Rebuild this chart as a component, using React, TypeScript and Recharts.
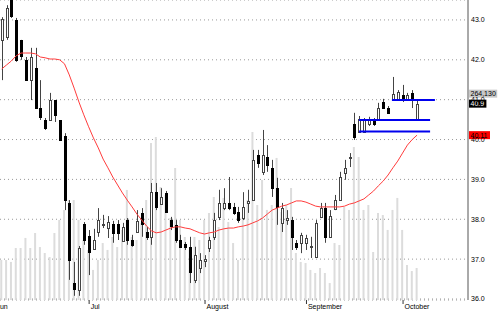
import {
  Bar,
  CartesianGrid,
  ComposedChart,
  Line,
  ReferenceLine,
  XAxis,
  YAxis,
} from 'recharts'

const FONT = '"Liberation Sans", Arial, sans-serif'

// month labels and the bar index where each month starts
const monthLabels = ['Jun', 'Jul', 'August', 'September', 'October']
const monthStarts = [-1.5, 18, 42, 63, 83]

const priceTicks = [36, 37, 38, 39, 40, 41, 42, 43]

const opens = [
  42.5, 42.57, 43.55, 43.0, 42.5, 42.0, 41.49, 41.79, 40.79, 40.49,
  40.49, 40.99, 40.49, 40.09, 38.41, 36.4, 36.23, 37.88, 37.58, 37.26,
  37.68, 37.86, 37.78, 37.88, 37.88, 37.46, 37.98, 37.48, 37.68, 38.16,
  37.68, 37.56, 38.68, 38.38, 38.66, 37.98, 37.86, 37.48, 37.38, 37.31,
  36.48, 36.78, 36.95, 37.28, 37.56, 38.06, 38.28, 38.41, 38.31, 38.18,
  38.03, 38.41, 38.48, 39.61, 39.19, 39.56, 39.29, 38.78, 37.91, 37.98,
  37.98, 37.41, 37.41, 37.41, 37.31, 37.05, 38.06, 38.28, 37.56, 38.26,
  38.48, 39.16, 39.54, 40.39, 40.19, 40.19, 40.39, 40.49, 40.49, 40.94,
  40.79, 40.99, 40.99, 41.12, 40.99, 41.17, 40.52,
]
const highs = [
  43.07, 43.37, 43.75, 43.05, 42.5, 42.07, 42.3, 42.3, 41.49, 40.54,
  41.17, 40.99, 40.49, 40.16, 38.48, 36.93, 37.33, 37.93, 37.73, 37.76,
  38.28, 38.11, 38.08, 37.96, 37.98, 37.91, 38.03, 37.61, 38.23, 38.28,
  37.81, 38.91, 38.91, 38.78, 38.71, 38.06, 37.98, 37.61, 37.43, 37.56,
  37.31, 37.15, 37.1, 37.56, 38.16, 38.74, 38.78, 39.06, 38.41, 38.31,
  38.68, 38.74, 39.74, 39.74, 40.24, 39.86, 39.49, 39.04, 38.41, 38.23,
  38.06, 37.48, 37.66, 37.61, 37.56, 37.98, 38.41, 38.41, 38.23, 38.61,
  39.19, 39.49, 39.66, 40.67, 40.59, 40.54, 40.57, 40.54, 40.92, 41.02,
  40.84, 41.57, 41.24, 41.37, 41.17, 41.24, 40.99,
]
const lows = [
  41.49, 42.5, 43.05, 41.95, 42.0, 41.49, 40.99, 40.79, 40.49, 40.24,
  40.49, 40.44, 39.99, 38.23, 36.48, 36.08, 36.08, 37.36, 36.6, 37.23,
  37.56, 37.78, 37.53, 37.41, 37.48, 37.43, 37.36, 37.31, 37.66, 37.56,
  37.48, 37.36, 38.23, 38.38, 38.16, 37.73, 37.41, 37.28, 37.23, 36.4,
  36.4, 36.65, 36.8, 37.18, 37.48, 37.98, 38.23, 38.23, 38.11, 37.91,
  37.98, 38.16, 38.48, 39.29, 39.11, 39.19, 38.56, 37.86, 37.68, 37.86,
  37.23, 37.23, 37.15, 37.23, 37.03, 37.03, 38.03, 37.41, 37.53, 38.23,
  38.48, 38.99, 39.31, 39.99, 40.19, 40.19, 40.34, 40.34, 40.47, 40.79,
  40.67, 40.97, 40.97, 40.94, 40.97, 40.79, 40.49,
]
const closes = [
  43.02, 43.3, 43.1, 42.0, 42.1, 41.49, 42.07, 40.79, 40.57, 40.29,
  40.99, 40.62, 39.99, 38.48, 36.98, 36.25, 37.28, 37.48, 37.18, 37.48,
  37.98, 37.88, 37.93, 37.66, 37.66, 37.81, 37.48, 37.36, 37.96, 37.88,
  37.56, 38.68, 38.31, 38.56, 38.18, 37.83, 37.48, 37.31, 37.31, 36.68,
  37.1, 36.98, 37.0, 37.48, 37.98, 38.41, 38.41, 38.28, 38.16, 37.98,
  38.31, 38.46, 39.49, 39.41, 39.61, 39.36, 38.78, 38.31, 38.28, 38.03,
  37.56, 37.31, 37.61, 37.53, 37.33, 37.91, 38.28, 37.56, 38.08, 38.48,
  39.06, 39.29, 39.56, 40.06, 40.52, 40.49, 40.49, 40.39, 40.79, 40.79,
  40.67, 41.14, 41.19, 41.04, 41.12, 40.99, 40.9,
]
const movingAvg = [
  41.77, 41.87, 41.97, 42.1, 42.17, 42.17, 42.17, 42.15, 42.07, 42.05,
  42.02, 42.02, 42.0, 41.9, 41.62, 41.29, 40.94, 40.62, 40.32, 40.04,
  39.79, 39.51, 39.29, 39.06, 38.86, 38.66, 38.48, 38.31, 38.13, 37.98,
  37.83, 37.71, 37.66, 37.68, 37.73, 37.78, 37.81, 37.81, 37.78, 37.76,
  37.71, 37.66, 37.63, 37.66, 37.68, 37.73, 37.76, 37.78, 37.78, 37.81,
  37.83, 37.86, 37.91, 37.96, 38.03, 38.13, 38.23, 38.28, 38.33, 38.36,
  38.41, 38.46, 38.46, 38.43, 38.38, 38.33, 38.31, 38.31, 38.31, 38.31,
  38.31, 38.33, 38.38, 38.41, 38.46, 38.51, 38.61, 38.71, 38.84, 38.96,
  39.11, 39.29, 39.46, 39.66, 39.86, 40.0, 40.11,
]
const volumes = [
  330000, 330000, 314000, 429000, 429000, 512000, 429000, 553000, 437000, 388000,
  355000, 553000, 660000, 743000, 825000, 825000, 660000, 495000, 413000, 248000,
  330000, 470000, 413000, 520000, 437000, 578000, 908000, 520000, 495000, 635000,
  825000, 1295000, 1345000, 932000, 866000, 677000, 1089000, 660000, 520000, 413000,
  520000, 495000, 660000, 718000, 850000, 602000, 842000, 644000, 470000, 330000,
  685000, 825000, 1386000, 784000, 990000, 743000, 784000, 1172000, 726000, 784000,
  924000, 388000, 314000, 305000, 248000, 223000, 264000, 223000, 140000, 470000,
  454000, 767000, 743000, 1262000, 1180000, 743000, 784000, 396000, 718000, 701000,
  578000, 743000, 842000, 578000, 289000, 239000, 264130,
]

// drawn support / resistance levels: price, first bar, last bar
const levelPrices = [40.99, 40.49, 40.2]
const levelFrom = [80.8, 74, 74]
const levelTo = [89.7, 88.7, 88.7]

const rows = opens.map((open, i) => ({
  i,
  open,
  high: highs[i],
  low: lows[i],
  close: closes[i],
  range: [lows[i], highs[i]],
  ma: movingAvg[i],
  vol: volumes[i],
}))

const last = rows[rows.length - 1]
const X_DOMAIN = [-0.35, 96.55]

function Candle(props: any) {
  const { x, y, width, height, payload } = props
  if (!payload) return null
  const { open, close, high, low } = payload
  const h = Math.abs(height)
  const top = Math.min(y, y + height)
  const k = high === low ? 0 : h / (high - low)
  const at = (v: number) => top + (high - v) * k
  const c = Math.round(x + width / 2)
  const up = close >= open
  const bTop = Math.round(at(Math.max(open, close)))
  const bBot = Math.round(at(Math.min(open, close)))
  return (
    <g>
      <line x1={c + 0.5} x2={c + 0.5} y1={top} y2={top + h} stroke='#444' />
      <rect
        x={c - 0.5}
        y={bTop + 0.5}
        width={2}
        height={Math.max(bBot - bTop, 1)}
        fill={up ? '#fff' : '#000'}
        stroke={up ? '#444' : '#000'}
      />
    </g>
  )
}

function MonthTick(props: any) {
  const { x, y, payload } = props
  const label = monthLabels[monthStarts.indexOf(payload.value)]
  return (
    <g>
      <line x1={x + 0.5} x2={x + 0.5} y1={y} y2={y + 4} stroke='#333' />
      <text x={x + 2} y={y + 9} fontSize={7} fill='#000' fontFamily={FONT}>
        {label}
      </text>
    </g>
  )
}

function AxisTag(props: any) {
  const { viewBox, text, bg, fg, shift = 0 } = props
  if (!viewBox) return null
  const left = viewBox.x + viewBox.width + 1
  const cy = viewBox.y + shift
  const w = text.length * 3.6 + 3
  return (
    <g>
      <rect x={left} y={cy - 4} width={w} height={8} fill={bg} />
      <text x={left + 1.5} y={cy + 2.5} fontSize={7} fill={fg} fontFamily={FONT}>
        {text}
      </text>
    </g>
  )
}

export default function App() {
  return (
    <div style={{ position: 'absolute', left: 0, top: 0, fontFamily: FONT, background: '#fff' }}>
      <ComposedChart
        width={500}
        height={312}
        data={rows}
        margin={{ top: 0, right: 0, bottom: 0, left: 0 }}
      >
        <CartesianGrid
          xAxisId='price'
          yAxisId='price'
          vertical={false}
          stroke='#999'
          strokeDasharray='1 3'
        />
        <XAxis
          xAxisId='price'
          type='number'
          dataKey='i'
          domain={X_DOMAIN}
          allowDataOverflow
          ticks={monthStarts}
          interval={0}
          tick={<MonthTick />}
          tickLine={false}
          axisLine={false}
          tickSize={0}
          tickMargin={0}
          height={12}
        />
        <XAxis
          xAxisId='vol'
          type='number'
          dataKey='i'
          domain={X_DOMAIN}
          allowDataOverflow
          hide
        />
        <YAxis
          yAxisId='price'
          orientation='right'
          domain={[35.975, 43.5]}
          allowDataOverflow
          ticks={priceTicks}
          tickFormatter={(v: number) => v.toFixed(1)}
          tick={{ fontSize: 7, fill: '#000', fontFamily: FONT }}
          tickLine={false}
          tickSize={0}
          tickMargin={3}
          axisLine={{ stroke: '#555' }}
          width={32}
        />
        <YAxis yAxisId='vol' hide domain={[0, 2475000]} allowDataOverflow />
        <Bar
          xAxisId='vol'
          yAxisId='vol'
          dataKey='vol'
          barSize={2}
          fill='#dcdcdc'
          isAnimationActive={false}
        />
        <Line
          xAxisId='price'
          yAxisId='price'
          dataKey='ma'
          type='linear'
          stroke='#ff3c3c'
          strokeWidth={1}
          dot={false}
          activeDot={false}
          isAnimationActive={false}
        />
        <Bar
          xAxisId='price'
          yAxisId='price'
          dataKey='range'
          barSize={3}
          shape={(p: any) => <Candle {...p} />}
          isAnimationActive={false}
        />
        {levelPrices.map((price, k) => (
          <ReferenceLine
            key={k}
            xAxisId='price'
            yAxisId='price'
            segment={[
              { x: levelFrom[k], y: price },
              { x: levelTo[k], y: price },
            ]}
            stroke='#0000ee'
            strokeWidth={2}
          />
        ))}
        <ReferenceLine
          xAxisId='price'
          yAxisId='price'
          y={last.close}
          stroke='none'
          label={
            <AxisTag
              text={last.vol.toLocaleString('en-US')}
              bg='#c8c8c8'
              fg='#000'
              shift={-10}
            />
          }
        />
        <ReferenceLine
          xAxisId='price'
          yAxisId='price'
          y={last.close}
          stroke='none'
          label={<AxisTag text={last.close.toFixed(1)} bg='#000' fg='#fff' />}
        />
        <ReferenceLine
          xAxisId='price'
          yAxisId='price'
          y={last.ma}
          stroke='none'
          label={<AxisTag text={last.ma.toFixed(2)} bg='#ff0000' fg='#000' />}
        />
      </ComposedChart>
    </div>
  )
}
